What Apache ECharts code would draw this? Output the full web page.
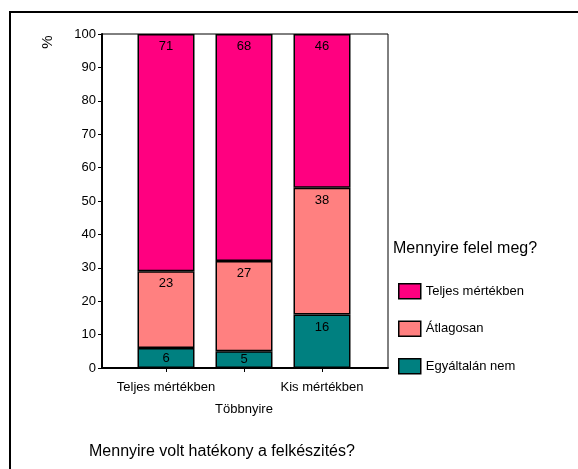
<!DOCTYPE html>
<html>
<head>
<meta charset="utf-8">
<script src="https://cdn.jsdelivr.net/npm/echarts@6/dist/echarts.min.js"></script>
<style>
  html, body { margin: 0; padding: 0; background: #fff; }
  #chart { width: 578px; height: 469px; }
</style>
</head>
<body>
<div id="chart"></div>
<script>
  var categories = ['Teljes mértékben', 'Többnyire', 'Kis mértékben'];
  var egyaltalan = [6, 5, 16];
  var atlagosan = [23, 27, 38];
  var teljes = [71, 68, 46];

  var font = 'Liberation Sans, Arial, sans-serif';

  function toData(values) {
    return values.map(function (v) {
      return v < 10 ? { value: v, label: { position: 'inside' } } : v;
    });
  }

  function barSeries(name, values, color) {
    return {
      name: name,
      type: 'bar',
      stack: 'total',
      barWidth: 57,
      data: toData(values),
      itemStyle: { color: color, borderColor: '#000', borderWidth: 1.5 },
      label: {
        show: true,
        position: 'insideTop',
        distance: 6,
        color: '#000',
        fontSize: 13,
        fontFamily: font
      }
    };
  }

  var chart = echarts.init(document.getElementById('chart'));
  chart.setOption({
    animation: false,
    textStyle: { fontFamily: font },
    grid: [
      // bars
      { left: 127, right: 217, top: 34, bottom: 101 },
      // plot frame
      { left: 102, right: 190, top: 34, bottom: 101, show: true, borderColor: '#000', borderWidth: 1 }
    ],
    xAxis: [
      {
        type: 'category',
        gridIndex: 0,
        data: categories,
        axisLine: { show: false },
        axisTick: { show: true, alignWithLabel: true, length: 4, lineStyle: { color: '#000' } },
        axisLabel: {
          interval: 0,
          margin: 8,
          color: '#000',
          fontSize: 13,
          lineHeight: 22,
          formatter: function (v, i) { return i === 1 ? '\n' + v : v; }
        }
      },
      {
        type: 'value',
        gridIndex: 1,
        min: 0, max: 1,
        axisLine: { show: true, lineStyle: { color: '#000', width: 2 } },
        axisTick: { show: false },
        axisLabel: { show: false },
        splitLine: { show: false }
      }
    ],
    yAxis: [
      {
        type: 'value',
        gridIndex: 0,
        min: 0,
        max: 100,
        interval: 10,
        offset: 25,
        splitLine: { show: false },
        axisLine: { show: true, lineStyle: { color: '#000', width: 2 } },
        axisTick: { show: true, length: 4, lineStyle: { color: '#000' } },
        axisLabel: { margin: 6, color: '#000', fontSize: 13 }
      },
      {
        type: 'value',
        gridIndex: 1,
        show: false,
        splitLine: { show: false }
      }
    ],
    legend: {
      orient: 'vertical',
      left: 393,
      top: 278,
      itemWidth: 22,
      itemHeight: 15,
      itemGap: 21,
      icon: 'rect',
      data: ['Teljes mértékben', 'Átlagosan', 'Egyáltalán nem'],
      itemStyle: { borderColor: '#000', borderWidth: 1.5 },
      textStyle: { color: '#000', fontSize: 13 }
    },
    title: [
      {
        text: 'Mennyire felel meg?',
        left: 393, top: 241,
        padding: 0,
        textStyle: { fontSize: 16, fontWeight: 'normal', color: '#000', fontFamily: font }
      },
      {
        text: 'Mennyire volt hatékony a felkészités?',
        left: 89, top: 444,
        padding: 0,
        textStyle: { fontSize: 16, fontWeight: 'normal', color: '#000', fontFamily: font }
      }
    ],
    graphic: [
      {
        type: 'rect',
        silent: true,
        shape: { x: 10, y: 12, width: 600, height: 500 },
        style: { fill: 'none', stroke: '#000', lineWidth: 2 }
      },
      {
        type: 'text',
        x: 48, y: 42,
        rotation: Math.PI / 2,
        style: { text: '%', fontSize: 15, fill: '#000', align: 'center', verticalAlign: 'middle', fontFamily: font }
      }
    ],
    series: [
      barSeries('Egyáltalán nem', egyaltalan, '#008080'),
      barSeries('Átlagosan', atlagosan, '#FF8080'),
      barSeries('Teljes mértékben', teljes, '#FF0080')
    ]
  });
</script>
</body>
</html>
